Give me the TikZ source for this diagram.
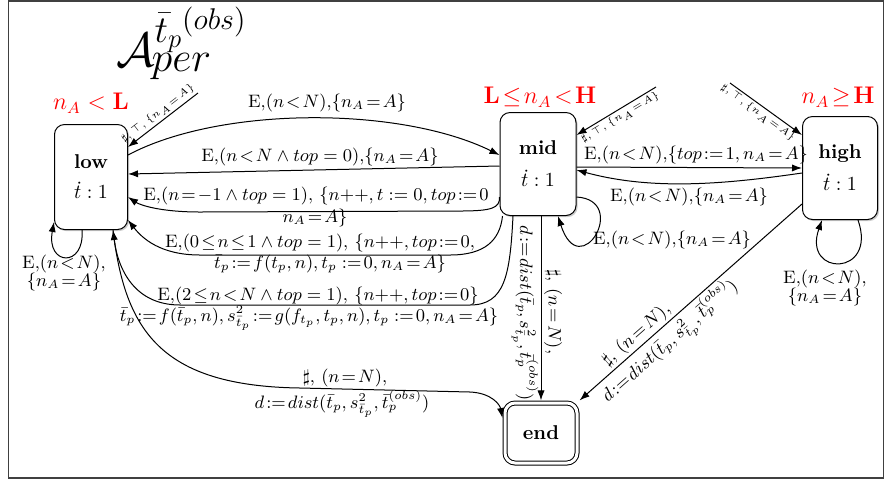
\RequirePackage{fix-cm}
\documentclass[tikz,border=0pt]{standalone}
\usepackage{amsmath,amssymb}
\usetikzlibrary{arrows.meta,shadows,calc}
\begin{document}
\begin{tikzpicture}[x=0.5pt,y=-0.5pt,
  state/.style={draw, rounded corners=5pt, fill=white, align=center, line width=0.5pt,
    drop shadow={shadow xshift=0.8pt,shadow yshift=-0.8pt,opacity=0.4}},
  arr/.style={-{Latex[length=5pt,width=3.6pt]}, line width=0.5pt},
  lab/.style={font=\small, align=center, inner sep=1pt},
  tinylab/.style={font=\tiny, inner sep=1pt},
  cond/.style={text=red, font=\large}]
\useasboundingbox (0,0) rectangle (884,484);
\draw[line width=0.7pt, black!75] (8.5,1) rectangle (884,478);

% title
\node[inner sep=0pt, anchor=base west] (title) at (116,66) {\fontsize{24}{28}\selectfont $\mathcal{A}$\rlap{\hspace{-1.5pt}\raisebox{-2.5pt}{\fontsize{21}{25}\selectfont $per$}}\hspace{0pt}\raisebox{12pt}{\fontsize{19}{23}\selectfont $\bar{t}_p$\raisebox{6.5pt}{\fontsize{15}{18}\selectfont $(obs)$}}};

% states
\node[state, minimum width=36.5pt, minimum height=52.5pt] (low) at (91,177) {\textbf{low}\\[3pt]$\dot{t}:1$};
\node[state, minimum width=38pt, minimum height=51.5pt] (mid) at (538,164) {\textbf{mid}\\[4pt]$\dot{t}:1$};
\node[state, minimum width=37.5pt, minimum height=51.5pt] (high) at (840,168) {\textbf{high}\\[4pt]$\dot{t}:1$};
\node[state, double, double distance=1.5pt, outer sep=1.3pt, minimum width=36pt, minimum height=30pt] (end) at (541,433) {\textbf{end}};

% conditions
\node[cond] (clow) at (91,103) {$n_A<\mathbf{L}$};
\node[cond] (cmid) at (540,97) {$\mathbf{L}\!\leq\! n_A\!<\!\mathbf{H}$};
\node[cond] (chigh) at (838,97) {$n_A\!\geq\!\mathbf{H}$};

% initial arrows
\coordinate (i1) at (198,93);
\coordinate (i2) at (656,87);
\coordinate (i3) at (730,83);
\draw[arr] (i1) -- node[tinylab, sloped, above] (li1) {$\sharp,\top,\{n_A\!=\!A\}$} ([yshift=15pt]low.east);
\draw[arr] (i2) -- node[tinylab, sloped, below] (li2) {$\sharp,\top,\{n_A\!=\!A\}$} ([yshift=14.5pt]mid.east);
\draw[arr] (i3) -- node[tinylab, sloped, below, pos=0.45] (li3) {$\sharp,\top,\{n_A\!=\!A\}$} ([yshift=16.5pt]high.west);

% low -> mid
\draw[arr] ([yshift=11pt]low.east) .. controls (220,106) and (400,106) .. ([yshift=4.5pt]mid.west);
\node[lab] (l1) at (327,103) {E,$(n\!<\!N)$,$\{n_A\!=\!A\}$};

% mid -> low (straight)
\draw[arr] ([yshift=-1pt]mid.west) -- ([yshift=1.5pt]low.east);
\node[lab] (l2) at (320,157) {E,$(n\!<\!N\wedge top=0)$,$\{n_A\!=\!A\}$};

% mid -> low (n=-1)
\draw[arr] ([yshift=-16.5pt]mid.west) .. controls (500,208) and (492,211) .. (460,211) -- (200,212) .. controls (160,212) and (140,205) .. ([yshift=-10pt]low.east);
\node[lab] (l3a) at (316,196) {E,$(n\!=\!-1\wedge top=1)$, $\{n{+}{+}, t:=0, top\!:=\!0$};
\node[lab] (l3b) at (315,218) {$n_A\!=\!A\}$};

% mid -> low (0<=n<=1)
\draw[arr] ([xshift=1.5pt]mid.south west) .. controls (500,240) and (485,255) .. (450,255) -- (200,255) .. controls (160,255) and (142,238) .. ([yshift=-21.5pt]low.east);
\node[lab] (l4a) at (320,243) {E,$(0\!\leq\! n\!\leq\! 1\wedge top=1)$, $\{n{+}{+}, top\!:=\!0,$};
\node[lab] (l4b) at (330,264) {$\bar{t}_p\!:=\!f(t_p,n), t_p:=\!0, n_A\!=\!A\}$};

% mid -> low (2<=n<N)
\draw[arr] ([xshift=-12.5pt]mid.south) .. controls (510,275) and (505,305) .. (470,305) -- (180,305) .. controls (135,305) and (118,270) .. ([xshift=11pt]low.south);
\node[lab] (l5a) at (318,296) {E,$(2\!\leq\! n\!<\!N\wedge top=1)$, $\{n{+}{+}, top\!:=\!0\}$};
\node[lab] (l5b) at (309,318) {$\bar{t}_p\!:=\!f(\bar{t}_p,n), s^2_{\bar{t}_p}\!:=\!g(f_{t_p},t_p,n), t_p:=\!0, n_A\!=\!A\}$};

% low -> end
\draw[arr] ([xshift=11pt]low.south) .. controls (125,330) and (160,386) .. (300,388) -- (470,392) .. controls (492,393) and (500,405) .. ([yshift=7.5pt]end.west);
\node[lab] (l6a) at (345,378) {$\sharp$, $(n\!=\!N)$,};
\node[lab] (l6b) at (342,404) {$d\!:=\!dist(\bar{t}_p, s^2_{\bar{t}_p}, \bar{t}_p^{(obs)})$};

% mid loop
\draw[arr] ([yshift=-16.5pt]mid.east) .. controls (630,200) and (580,285) .. ([xshift=10pt]mid.south);
\node[lab] (l7) at (672,240) {E,$(n\!<\!N)$,$\{n_A\!=\!A\}$};

% mid -> high
\draw[arr] ([yshift=-1.5pt]mid.east) -- (high.west);
\node[lab] (l8) at (696,155) {E,$(n\!<\!N)$,$\{top\!:=\!1, n_A\!=\!A\}$};

% high -> mid
\draw[arr] ([yshift=-2.5pt]high.west) .. controls (720,185) and (650,190) .. ([yshift=-3pt]mid.east);
\node[lab] (l9) at (689,197) {E,$(n\!<\!N)$,$\{n_A\!=\!A\}$};

% high loop
\draw[arr] ([xshift=9pt]high.south) .. controls (878,277) and (802,277) .. ([xshift=-9pt]high.south);
\node[lab] (l10) at (825,288) {E,$(n\!<\!N)$,\\[-2pt]$\{n_A\!=\!A\}$};

% low loop
\draw[arr] ([xshift=-4.5pt]low.south) .. controls (85,268) and (46,266) .. ([yshift=4pt]low.south west);
\node[lab] (l11) at (64,273) {E,$(n\!<\!N)$,\\[-2pt]$\{n_A\!=\!A\}$};

% mid -> end
\draw[arr] (mid.south -| end.north) -- (end.north);
\node[lab, rotate=-90] (l12a) at (553,312) {$\sharp$, $(n\!=\!N)$,};
\node[lab, rotate=-90] (l12b) at (525,313) {$d\!:=\!dist(\bar{t}_p, s^2_{\bar{t}_p}, \bar{t}_p^{(obs)})$};

% high -> end
\draw[arr] ([yshift=-18pt]high.west) -- node[lab, sloped, above, pos=0.71] (l13a) {$\sharp$, $(n\!=\!N)$,} node[lab, sloped, below, pos=0.64] (l13b) {$d\!:=\!dist(\bar{t}_p, s^2_{\bar{t}_p}, \bar{t}_p^{(obs)})$} (end.north east);
\end{tikzpicture}
\end{document}
